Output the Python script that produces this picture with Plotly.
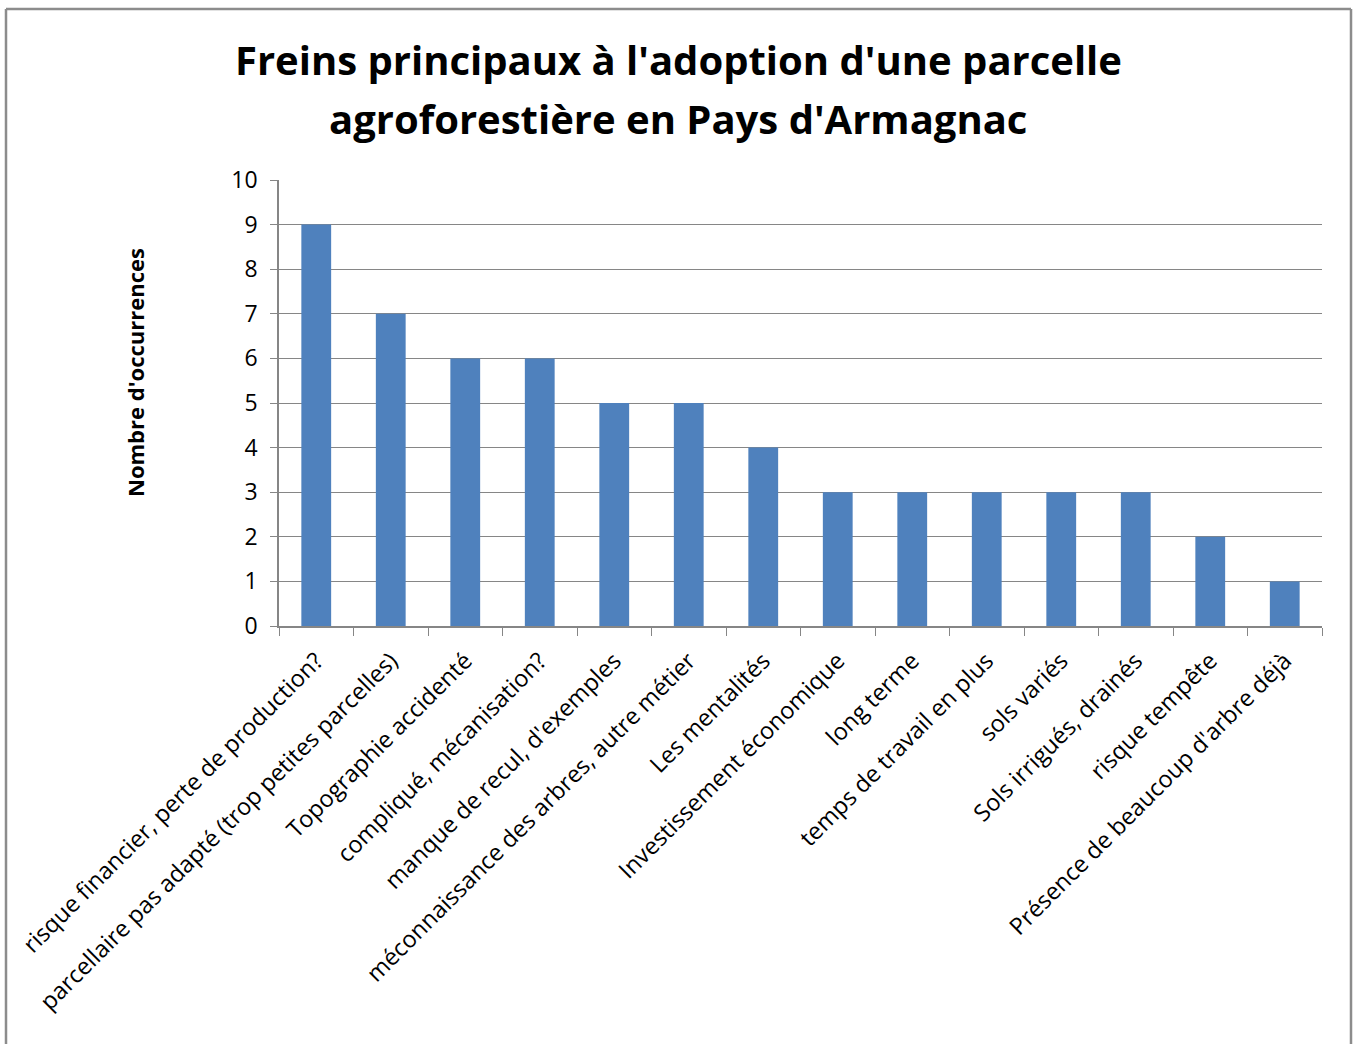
import plotly.graph_objects as go

# Data
categories = [
    "risque financier, perte de production?",
    "parcellaire pas adapté (trop petites parcelles)",
    "Topographie accidenté",
    "compliqué, mécanisation?",
    "manque de recul, d'exemples",
    "méconnaissance des arbres, autre métier",
    "Les mentalités",
    "Investissement économique",
    "long terme",
    "temps de travail en plus",
    "sols variés",
    "Sols irrigués, drainés",
    "risque tempête",
    "Présence de beaucoup d'arbre déjà",
]
occurrences = [9, 7, 6, 6, 5, 5, 4, 3, 3, 3, 3, 3, 2, 1]
y_ticks = list(range(0, 11))

W, H = 1356, 1044
L, R, T, B = 279, 34, 180, 418
pw, ph = W - L - R, H - T - B

def px_x(x):
    return (x - L) / pw

def px_y(y):
    return (H - B - y) / ph

fig = go.Figure(go.Bar(
    x=categories,
    y=occurrences,
    marker=dict(color="#4F81BD", line=dict(width=0)),
    width=0.4,
))

grey = "#868686"
font = "Open Sans, Noto Sans, sans-serif"

fig.update_layout(
    width=W, height=H,
    margin=dict(l=L, r=R, t=T, b=B),
    paper_bgcolor="white",
    plot_bgcolor="white",
    showlegend=False,
    font=dict(family=font, color="black"),
    xaxis=dict(
        type="category",
        tickangle=-45,
        tickson="boundaries",
        ticks="outside",
        ticklen=8,
        tickcolor=grey,
        showline=True,
        linecolor=grey,
        linewidth=1.5,
        showgrid=False,
        ticklabelstandoff=10,
        tickfont=dict(size=23.5),
    ),
    yaxis=dict(
        range=[0, 10],
        tickvals=y_ticks,
        ticks="outside",
        ticklen=7,
        tickcolor=grey,
        showline=True,
        linecolor=grey,
        linewidth=1.5,
        showgrid=True,
        gridcolor=grey,
        gridwidth=1.3,
        zeroline=False,
        ticklabelstandoff=8,
        tickfont=dict(size=23),
    ),
)

# Title, one annotation per line for exact placement
title_lines = ["Freins principaux à l'adoption d'une parcelle",
               "agroforestière en Pays d'Armagnac"]
for line, ypx in zip(title_lines, [60, 118]):
    fig.add_annotation(
        text=f"<b>{line}</b>",
        xref="paper", yref="paper",
        x=px_x(678), y=px_y(ypx),
        xanchor="center", yanchor="middle",
        showarrow=False,
        font=dict(size=40, family=font),
    )

# Y axis title placed as an annotation
fig.add_annotation(
    text="<b>Nombre d'occurrences</b>",
    xref="paper", yref="paper",
    x=px_x(135), y=px_y(373),
    xanchor="center", yanchor="middle",
    textangle=-90, showarrow=False,
    font=dict(size=22, family=font),
)

# Outer chart border (left, top, right)
border = dict(color="#8c8c8c", width=2.5)
x0, x1 = px_x(6), px_x(1351)
ytop, ybot = px_y(9), px_y(1060)
for xa, ya, xb, yb in [(x0, ybot, x0, ytop), (x0, ytop, x1, ytop), (x1, ytop, x1, ybot)]:
    fig.add_shape(type="line", xref="paper", yref="paper",
                  x0=xa, y0=ya, x1=xb, y1=yb, line=border, layer="above")

fig.write_html("out.html", config={"displayModeBar": False},
               post_script="document.body.style.margin='0';")
